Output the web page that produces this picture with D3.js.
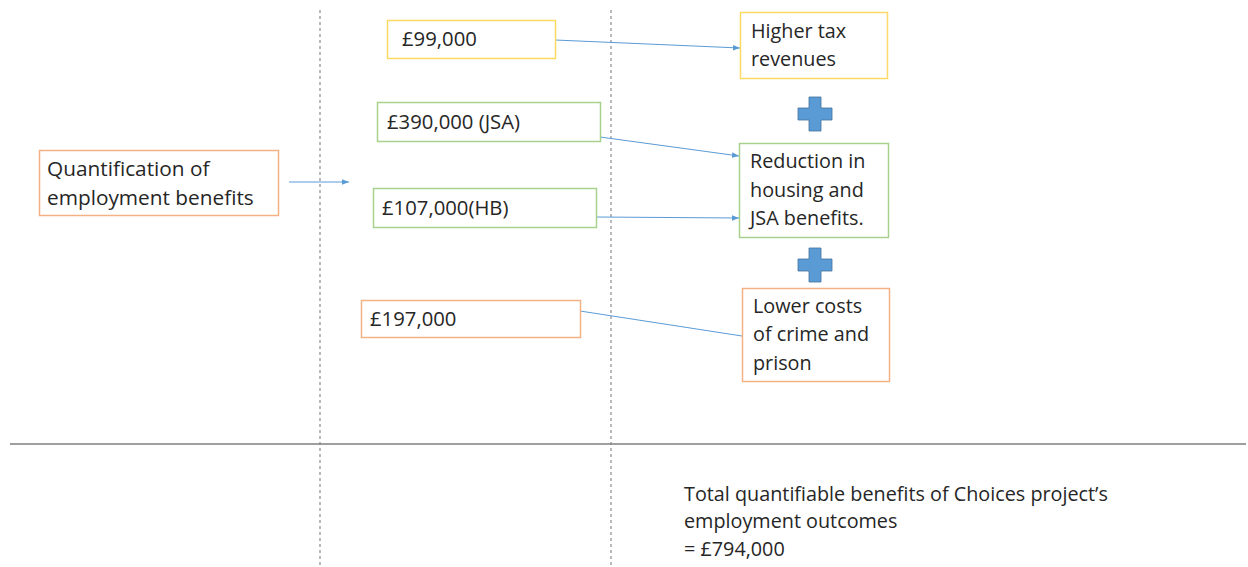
<!DOCTYPE html>
<html>
<head>
<meta charset="utf-8">
<script src="https://cdn.jsdelivr.net/npm/d3@7"></script>
<style>
  body { margin: 0; background: #fff; }
  svg text { font-family: "Open Sans", Lato, sans-serif; fill: #262626; }
</style>
</head>
<body>
<div id="frame"></div>
<script>
// source box
const sourceLines = ["Quantification of", "employment benefits"];
// value boxes (amounts) and the outcome each feeds
const amounts = ["£99,000", "£390,000 (JSA)", "£107,000(HB)", "£197,000"];
const amountOutcome = [0, 1, 1, 2];
const amountColor = ["#FFD966", "#A9D18E", "#A9D18E", "#F4B183"];
// outcome boxes
const outcomes = [
  ["Higher tax", "revenues"],
  ["Reduction in", "housing and", "JSA benefits."],
  ["Lower costs", "of crime and", "prison"],
];
const outcomeColor = ["#FFD966", "#A9D18E", "#F4B183"];
const totalLines = [
  "Total quantifiable benefits of Choices project\u2019s",
  "employment outcomes",
  "= £794,000",
];

const width = 1248, height = 567;
const lineH = 28.5;
const fs = 20.3;

// layout of boxes
const amountBox = [
  { x: 387, y: 20, w: 168, h: 38, tx: 402 },
  { x: 377, y: 102, w: 223, h: 39, tx: 387 },
  { x: 373, y: 188, w: 223, h: 39, tx: 382 },
  { x: 361, y: 300, w: 219, h: 37, tx: 370 },
];
const outcomeBox = [
  { x: 740, y: 12, w: 147, h: 66 },
  { x: 739, y: 143, w: 149, h: 94 },
  { x: 742, y: 288, w: 147, h: 93 },
];
// link end points
const linkFromY = [40, 137, 217, 311];
const linkToY = [48, 156, 218, 336];

const svg = d3.select("#frame").append("svg")
  .attr("width", width).attr("height", height);

const defs = svg.append("defs");
defs.append("marker")
  .attr("id", "arr").attr("viewBox", "0 0 10 10")
  .attr("refX", 10).attr("refY", 5)
  .attr("markerWidth", 7).attr("markerHeight", 7)
  .attr("orient", "auto")
  .append("path").attr("d", "M0,1L10,5L0,9Z").attr("fill", "#5B9BD5");

// dashed column dividers
svg.selectAll("line.div").data([320, 611]).join("line")
  .attr("x1", d => d).attr("x2", d => d)
  .attr("y1", 10).attr("y2", height)
  .attr("stroke", "#8c8c8c").attr("stroke-width", 1.2)
  .attr("stroke-dasharray", "3,3");

// horizontal rule
svg.append("line")
  .attr("x1", 10).attr("x2", 1246).attr("y1", 444).attr("y2", 444)
  .attr("stroke", "#7f7f7f").attr("stroke-width", 1.5);

// source box
const src = svg.append("g");
src.append("rect").attr("x", 39.5).attr("y", 150.5).attr("width", 239).attr("height", 65)
  .attr("fill", "#fff").attr("stroke", "#F4B183").attr("stroke-width", 1.5);
src.selectAll("text").data(sourceLines).join("text")
  .attr("x", 47).attr("y", (d, i) => 169 + i * lineH)
  .attr("dy", "0.35em").attr("font-size", 20.8).text(d => d);

svg.append("line")
  .attr("x1", 289).attr("y1", 182).attr("x2", 349).attr("y2", 182)
  .attr("stroke", "#5B9BD5").attr("stroke-width", 1)
  .attr("marker-end", "url(#arr)");

// links amount -> outcome
svg.selectAll("line.link").data(amounts).join("line")
  .attr("class", "link")
  .attr("x1", (d, i) => amountBox[i].x + amountBox[i].w)
  .attr("y1", (d, i) => linkFromY[i])
  .attr("x2", (d, i) => outcomeBox[amountOutcome[i]].x)
  .attr("y2", (d, i) => linkToY[i])
  .attr("stroke", "#5B9BD5").attr("stroke-width", 1)
  .attr("marker-end", (d, i) => i < 3 ? "url(#arr)" : null);

// amount boxes
const ag = svg.selectAll("g.amt").data(amounts).join("g").attr("class", "amt");
ag.append("rect")
  .attr("x", (d, i) => amountBox[i].x + 0.5).attr("y", (d, i) => amountBox[i].y + 0.5)
  .attr("width", (d, i) => amountBox[i].w).attr("height", (d, i) => amountBox[i].h)
  .attr("fill", "#fff").attr("stroke", (d, i) => amountColor[i]).attr("stroke-width", 1.5);
ag.append("text")
  .attr("x", (d, i) => amountBox[i].tx)
  .attr("y", (d, i) => amountBox[i].y + amountBox[i].h / 2)
  .attr("dy", "0.35em").attr("font-size", fs).text(d => d);

// outcome boxes
const og = svg.selectAll("g.out").data(outcomes).join("g").attr("class", "out");
og.append("rect")
  .attr("x", (d, i) => outcomeBox[i].x + 0.5).attr("y", (d, i) => outcomeBox[i].y + 0.5)
  .attr("width", (d, i) => outcomeBox[i].w).attr("height", (d, i) => outcomeBox[i].h)
  .attr("fill", "#fff").attr("stroke", (d, i) => outcomeColor[i]).attr("stroke-width", 1.5);
og.each(function (lines, i) {
  const b = outcomeBox[i];
  const top = b.y + b.h / 2 - (lines.length - 1) * lineH / 2;
  d3.select(this).selectAll("text").data(lines).join("text")
    .attr("x", b.x + 11).attr("y", (d, j) => top + j * lineH)
    .attr("dy", "0.35em").attr("font-size", 19.8).text(d => d);
});

// plus signs between outcomes
const plusY = [114, 265];
svg.selectAll("path.plus").data(plusY).join("path")
  .attr("class", "plus")
  .attr("transform", d => `translate(815,${d})`)
  .attr("d", "M-6,-17H6V-6H17V6H6V17H-6V6H-17V-6H-6Z")
  .attr("fill", "#5B9BD5").attr("stroke", "#41719C").attr("stroke-width", 0.8);

// total
svg.selectAll("text.total").data(totalLines).join("text")
  .attr("class", "total")
  .attr("x", 684).attr("y", (d, i) => 494 + i * 27.5)
  .attr("dy", "0.35em").attr("font-size", 19.8).text(d => d);
</script>
</body>
</html>
